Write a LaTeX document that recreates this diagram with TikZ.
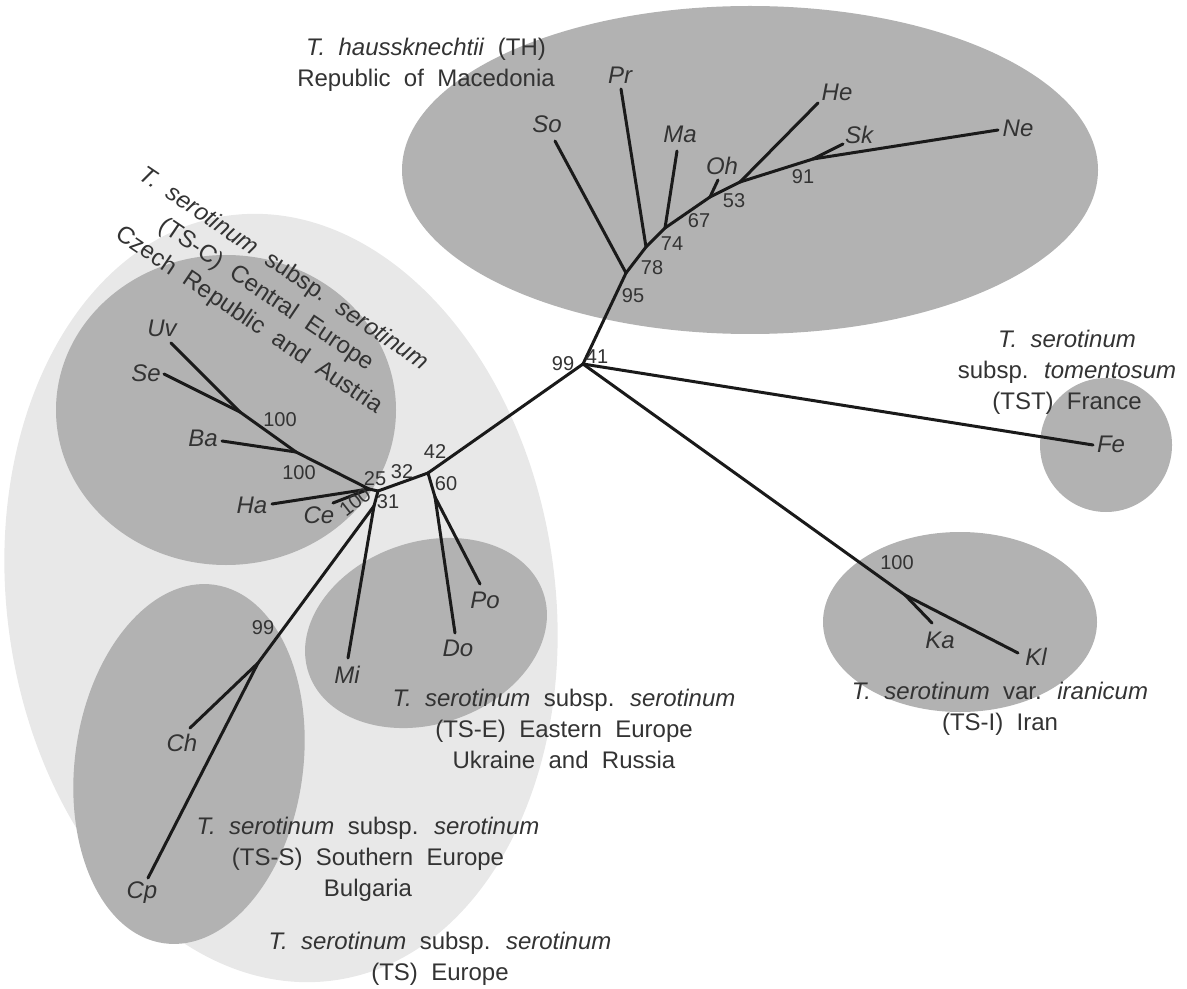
\documentclass[tikz,border=0pt]{standalone}
\usepackage{fontspec}
\setmainfont{Liberation Sans}[WordSpace=2]
\definecolor{shadeD}{RGB}{178,178,178}
\definecolor{shadeL}{RGB}{232,232,232}
\definecolor{txt}{RGB}{51,51,51}
\definecolor{brc}{RGB}{26,26,26}
\tikzset{
  taxon/.style={font=\fontsize{12}{14}\selectfont\itshape, text=txt, inner sep=0pt},
  boot/.style={font=\fontsize{10}{11}\selectfont, text=txt, inner sep=0pt},
  group/.style={font=\fontsize{12}{15.5}\selectfont, text=txt, align=center, inner sep=0pt},
}
\begin{document}
\begin{tikzpicture}[x=0.5pt, y=-0.5pt, line width=1.5pt, line cap=round, draw=brc]
\useasboundingbox (0,0) rectangle (1187,989);
% clouds
\fill[shadeL, rotate around={8:(281,598)}] (281,598) ellipse [x radius=274, y radius=386];
\fill[shadeD] (226,410) ellipse [x radius=170, y radius=155];
\fill[shadeD, rotate around={-8:(189,764)}] (189,764) ellipse [x radius=114, y radius=181];
\fill[shadeD, rotate around={19:(426,633)}] (426,633) ellipse [x radius=124, y radius=91];
\fill[shadeD] (750,170) ellipse [x radius=348, y radius=164];
\fill[shadeD] (1106,445) ellipse [x radius=66, y radius=67];
\fill[shadeD] (960,622) ellipse [x radius=137, y radius=90];

% root and outgroups
\coordinate (r) at (583,364);
\coordinate (tFe) at (1093,445);
\coordinate (n100k) at (905,595);
\coordinate (tKa) at (932,623);
\coordinate (tKl) at (1018,653);
\draw[](r) -- (tFe);
\draw[](r) -- (n100k);
\draw[](n100k) -- (tKa);
\draw[](n100k) -- (tKl);

% TH clade
\coordinate (n95) at (626,273);
\coordinate (n78) at (646,247);
\coordinate (n74) at (665,228);
\coordinate (n67) at (710,197);
\coordinate (n53) at (740,182);
\coordinate (n91) at (813,159);
\coordinate (tSo) at (555,141);
\coordinate (tPr) at (621,89);
\coordinate (tMa) at (677,151);
\coordinate (tOh) at (718,180);
\coordinate (tHe) at (818,103);
\coordinate (tSk) at (843,144);
\coordinate (tNe) at (998,130);
\draw[](r) -- (n95);
\draw[](n95) -- (tSo);
\draw[](n95) -- (n78);
\draw[](n78) -- (tPr);
\draw[](n78) -- (n74);
\draw[](n74) -- (tMa);
\draw[](n74) -- (n67);
\draw[](n67) -- (tOh);
\draw[](n67) -- (n53);
\draw[](n53) -- (tHe);
\draw[](n53) -- (n91);
\draw[](n91) -- (tSk);
\draw[](n91) -- (tNe);

% TS clade
\coordinate (n42) at (428,473);
\coordinate (n60) at (435,497);
\coordinate (n32) at (378,491);
\coordinate (n25) at (369,489);
\coordinate (n31) at (374,506);
\coordinate (n99) at (258,663);
\coordinate (nBa) at (296,452);
\coordinate (nUv) at (240,412);
\coordinate (tDo) at (455,633);
\coordinate (tPo) at (480,584);
\coordinate (tMi) at (348,658);
\coordinate (tCh) at (190,728);
\coordinate (tCp) at (148,878);
\coordinate (tHa) at (272,504);
\coordinate (tCe) at (333,503);
\coordinate (tBa) at (222,441);
\coordinate (tUv) at (171,343);
\coordinate (tSe) at (164,374);
\draw[](r) -- (n42);
\draw[](n42) -- (n60);
\draw[](n60) -- (tDo);
\draw[](n60) -- (tPo);
\draw[](n42) -- (n32);
\draw[](n32) -- (n25);
\draw[](n32) -- (n31);
\draw[](n31) -- (tMi);
\draw[](n31) -- (n99);
\draw[](n99) -- (tCh);
\draw[](n99) -- (tCp);
\draw[](n25) -- (tHa);
\draw[](n25) -- (tCe);
\draw[](n25) -- (nBa);
\draw[](nBa) -- (tBa);
\draw[](nBa) -- (nUv);
\draw[](nUv) -- (tUv);
\draw[](nUv) -- (tSe);

% taxa
\node[taxon] (lSo) at (547,124){So};
\node[taxon] (lPr) at (620,75){Pr};
\node[taxon] (lMa) at (680,134){Ma};
\node[taxon] (lOh) at (722,166){Oh};
\node[taxon] (lHe) at (837,92){He};
\node[taxon] (lSk) at (859,135){Sk};
\node[taxon] (lNe) at (1018,128){Ne};
\node[taxon] (lFe) at (1111,444){Fe};
\node[taxon] (lKa) at (940,640){Ka};
\node[taxon] (lKl) at (1036,657){Kl};
\node[taxon] (lUv) at (162,328){Uv};
\node[taxon] (lSe) at (146,373){Se};
\node[taxon] (lBa) at (203,438){Ba};
\node[taxon] (lHa) at (252,505){Ha};
\node[taxon] (lCe) at (319,515){Ce};
\node[taxon] (lMi) at (347,675){Mi};
\node[taxon] (lDo) at (458,648){Do};
\node[taxon] (lPo) at (485,600){Po};
\node[taxon] (lCh) at (182,743){Ch};
\node[taxon] (lCp) at (142,893){Cp};

% bootstrap
\node[boot] (b99r) at (563,364){99};
\node[boot] (b41) at (597,357){41};
\node[boot] (b95) at (633,296){95};
\node[boot] (b78) at (652,268){78};
\node[boot] (b74) at (672,244){74};
\node[boot] (b67) at (699,221){67};
\node[boot] (b53) at (734,201){53};
\node[boot] (b91) at (803,177){91};
\node[boot] (b100k) at (897,563){100};
\node[boot] (b42) at (435,452){42};
\node[boot] (b60) at (446,484){60};
\node[boot] (b32) at (402,472){32};
\node[boot] (b25) at (375,479){25};
\node[boot] (b31) at (388,502){31};
\node[boot, rotate=38] (b100c) at (355,502){100};
\node[boot] (b100a) at (299,473){100};
\node[boot] (b100b) at (280,420){100};
\node[boot] (b99) at (263,628){99};

% groups
\node[group] (gTH) at (426,65){\textit{T. haussknechtii} (TH)\\Republic of Macedonia};
\node[group, rotate=-34] (gTSC) at (266,295){\textit{T. serotinum} subsp. \textit{serotinum}\\(TS-C) Central Europe\\Czech Republic and Austria};
\node[group] (gTST) at (1067,372){\textit{T. serotinum}\\subsp. \textit{tomentosum}\\(TST) France};
\node[group] (gTSI) at (1000,709){\textit{T. serotinum} var. \textit{iranicum}\\(TS-I) Iran};
\node[group] (gTSE) at (564,729){\textit{T. serotinum} subsp. \textit{serotinum}\\(TS-E) Eastern Europe\\Ukraine and Russia};
\node[group] (gTSS) at (368,859){\textit{T. serotinum} subsp. \textit{serotinum}\\(TS-S) Southern Europe\\Bulgaria};
\node[group] (gTS) at (440,959){\textit{T. serotinum} subsp. \textit{serotinum}\\(TS) Europe};
\end{tikzpicture}
\end{document}
